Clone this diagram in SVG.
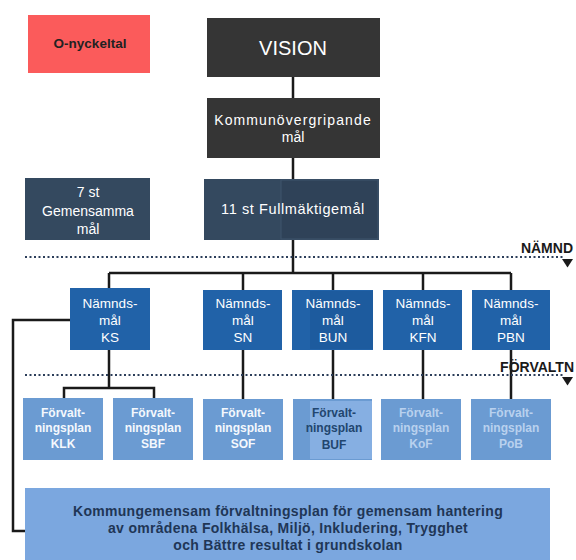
<svg xmlns="http://www.w3.org/2000/svg" width="576" height="560" viewBox="0 0 576 560">
<defs>
<style>
text{font-family:"Liberation Sans",Arial,sans-serif;text-anchor:middle}
.dark{fill:#353535}
.navy{fill:#34495f}
.nm{fill:#2162a8}
.fv{fill:#6b9bd2}
.wt{fill:#ffffff;font-size:13.5px}
.ws{fill:#f4f8fd;font-size:12px;font-weight:bold}
.wp{fill:#b9d1ee;font-size:12px;font-weight:bold}
.conn{fill:none;stroke:#1a1a1a;stroke-width:2.5}
.dot{fill:none;stroke:#2c3e5a;stroke-width:2.2;stroke-dasharray:2 2.5}
.lbl{font-weight:bold;font-size:14px;fill:#1a1a1a;text-anchor:end}
</style>
</defs>
<rect width="576" height="560" fill="#ffffff"/>
<g id="connectors">
<path class="conn" d="M293 77V98M293 158V179M293 240V273M109 273H511M109 273V289M243 273V290M333 273V290M423 273V290M511 273V290"/>
<path class="conn" d="M109 350V388M64 398V388H154V398M243 350V399M333 350V399M423 350V399M511 350V399"/>
<path class="conn" d="M70 320H13V531H25"/>
</g>
<g id="levels">
<path class="dot" d="M25 257H563"/>
<path d="M562 259h11l-5.5 8.5z" fill="#1a1a1a"/>
<text class="lbl" x="573" y="253">NÄMND</text>
<path class="dot" d="M25 375H563"/>
<path d="M562 377h11l-5.5 8.5z" fill="#1a1a1a"/>
<text class="lbl" x="574" y="372">FÖRVALTN</text>
</g>
<g id="okey">
<rect x="28" y="15" width="122" height="58" fill="#fb5b5b"/>
<text x="90" y="48" style="font-size:13.5px;font-weight:bold;fill:#222">O-nyckeltal</text>
</g>
<g id="vision">
<rect class="dark" x="207" y="18" width="173" height="59"/>
<text x="293" y="55" style="font-size:20px;fill:#fff">VISION</text>
</g>
<g id="kommun">
<rect class="dark" x="207" y="98" width="173" height="60"/>
<text x="293" y="125" style="font-size:14px;fill:#fff;letter-spacing:1.1px">Kommunövergripande</text>
<text x="293" y="142" style="font-size:14px;fill:#fff">mål</text>
</g>
<g id="gemensamma">
<rect class="navy" x="25" y="178" width="125" height="62"/>
<text x="88" y="197" style="font-size:14px;fill:#fff">7 st</text>
<text x="88" y="216" style="font-size:14px;fill:#fff">Gemensamma</text>
<text x="88" y="234" style="font-size:14px;fill:#fff">mål</text>
</g>
<g id="fullmaktige">
<rect class="navy" x="204" y="179" width="175" height="61"/>
<rect x="281" y="180" width="97" height="59" fill="#2f4258" stroke="#3f546c" stroke-width="1"/>
<text x="293" y="214" style="font-size:14.5px;letter-spacing:0.6px;fill:#fff">11 st Fullmäktigemål</text>
</g>
<g id="nm-ks"><rect class="nm" x="70" y="288" width="80" height="62"/>
<text class="wt" x="110" y="308">Nämnds-</text><text class="wt" x="110" y="325">mål</text><text class="wt" x="110" y="342">KS</text></g>
<g id="nm-sn"><rect class="nm" x="203" y="290" width="79" height="60"/>
<text class="wt" x="243" y="308">Nämnds-</text><text class="wt" x="243" y="325">mål</text><text class="wt" x="243" y="342">SN</text></g>
<g id="nm-bun"><rect class="nm" x="292" y="290" width="81" height="60"/>
<rect x="310" y="291" width="63" height="58" fill="#1d5b9e"/>
<text class="wt" x="333" y="308">Nämnds-</text><text class="wt" x="333" y="325">mål</text><text class="wt" x="333" y="342">BUN</text></g>
<g id="nm-kfn"><rect class="nm" x="383" y="290" width="79" height="60"/>
<text class="wt" x="423" y="308">Nämnds-</text><text class="wt" x="423" y="325">mål</text><text class="wt" x="423" y="342">KFN</text></g>
<g id="nm-pbn"><rect class="nm" x="472" y="290" width="78" height="60"/>
<text class="wt" x="511" y="308">Nämnds-</text><text class="wt" x="511" y="325">mål</text><text class="wt" x="511" y="342">PBN</text></g>
<g id="fp-klk"><rect class="fv" x="23" y="398" width="80" height="62"/>
<text class="ws" x="63" y="417">Förvalt-</text><text class="ws" x="63" y="432">ningsplan</text><text class="ws" x="63" y="448">KLK</text></g>
<g id="fp-sbf"><rect class="fv" x="113" y="398" width="80" height="62"/>
<text class="ws" x="153" y="417">Förvalt-</text><text class="ws" x="153" y="432">ningsplan</text><text class="ws" x="153" y="448">SBF</text></g>
<g id="fp-sof"><rect class="fv" x="203" y="399" width="80" height="61"/>
<text class="ws" x="243" y="417">Förvalt-</text><text class="ws" x="243" y="432">ningsplan</text><text class="ws" x="243" y="448">SOF</text></g>
<g id="fp-buf"><rect class="fv" x="293" y="399" width="79" height="61"/>
<rect x="310" y="401" width="62" height="58" fill="#86afe2"/>
<text x="334" y="417" style="font-size:12px;fill:#22466f;font-weight:bold">Förvalt-</text><text x="334" y="432" style="font-size:12px;fill:#22466f;font-weight:bold">ningsplan</text><text x="334" y="449" style="font-size:12px;fill:#22466f;font-weight:bold">BUF</text></g>
<g id="fp-kof"><rect class="fv" x="381" y="399" width="80" height="61"/>
<text class="wp" x="421" y="417">Förvalt-</text><text class="wp" x="421" y="432">ningsplan</text><text class="wp" x="421" y="448">KoF</text></g>
<g id="fp-pob"><rect class="fv" x="471" y="399" width="80" height="61"/>
<text class="wp" x="511" y="417">Förvalt-</text><text class="wp" x="511" y="432">ningsplan</text><text class="wp" x="511" y="448">PoB</text></g>
<g id="gemensam-plan">
<rect x="25" y="488" width="525" height="72" fill="#7ba7df"/>
<g style="font-family:'DejaVu Sans',sans-serif;font-size:14px;letter-spacing:0.3px;font-weight:bold;fill:#1f3656">
<text x="288" y="516">Kommungemensam förvaltningsplan för gemensam hantering</text>
<text x="288" y="533">av områdena Folkhälsa, Miljö, Inkludering, Trygghet</text>
<text x="288" y="550">och Bättre resultat i grundskolan</text>
</g>
</g>
</svg>
